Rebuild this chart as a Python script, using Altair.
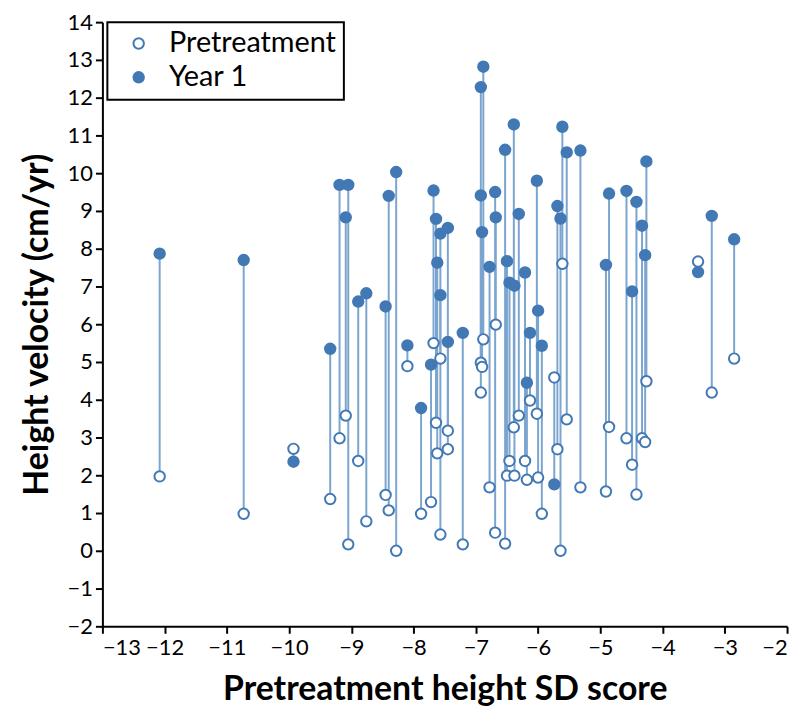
import altair as alt
import pandas as pd

# Pretreatment height SD score (x) for each child
sd_score = [-12.08, -10.73, -9.93, -9.34, -9.19, -9.09, -9.05, -8.89, -8.76, -8.45,
            -8.40, -8.28, -8.10, -7.88, -7.72, -7.68, -7.64, -7.62, -7.57, -7.57,
            -7.45, -7.45, -7.21, -6.92, -6.92, -6.90, -6.88, -6.78, -6.69, -6.68,
            -6.53, -6.50, -6.46, -6.39, -6.38, -6.31, -6.21, -6.18, -6.13, -6.02,
            -6.00, -5.94, -5.74, -5.69, -5.64, -5.61, -5.54, -5.32, -4.91, -4.86,
            -4.58, -4.49, -4.42, -4.33, -4.28, -4.26, -3.43, -3.21, -2.85]
# Height velocity before treatment (cm/yr)
pretreatment = [1.97, 0.98, 2.70, 1.37, 2.98, 3.58, 0.17, 2.38, 0.78, 1.48,
                1.07, 0.00, 4.89, 0.98, 1.29, 5.50, 3.39, 2.58, 5.09, 0.43,
                3.18, 2.69, 0.17, 4.19, 4.98, 4.87, 5.60, 1.68, 0.48, 5.99,
                0.19, 1.99, 2.38, 3.27, 1.99, 3.58, 2.38, 1.88, 3.98, 3.63,
                1.94, 0.98, 4.59, 2.69, 0.00, 7.60, 3.48, 1.68, 1.57, 3.28,
                2.98, 2.28, 1.49, 2.98, 2.88, 4.49, 7.66, 4.19, 5.09]
# Height velocity in year 1 of treatment (cm/yr)
year1 = [7.87, 7.70, 2.36, 5.35, 9.69, 8.83, 9.69, 6.60, 6.82, 6.47,
         9.40, 10.03, 5.44, 3.78, 4.93, 9.54, 8.79, 7.63, 8.40, 6.77,
         8.55, 5.53, 5.77, 12.28, 9.41, 8.44, 12.82, 7.52, 9.50, 8.83,
         10.62, 7.67, 7.10, 11.29, 7.02, 8.92, 7.37, 4.45, 5.77, 9.80,
         6.36, 5.43, 1.76, 9.13, 8.80, 11.23, 10.55, 10.60, 7.57, 9.46,
         9.53, 6.87, 9.24, 8.61, 7.83, 10.31, 7.38, 8.87, 8.25]

series_names = ["Pretreatment", "Year 1"]
x_ticks = list(range(-13, -1))
y_ticks = list(range(-2, 15))

n = len(sd_score)
wide = pd.DataFrame({"sd": sd_score, "pre": pretreatment, "y1": year1})
long = pd.DataFrame({
    "sd": sd_score + sd_score,
    "hv": pretreatment + year1,
    "series": [series_names[0]] * n + [series_names[1]] * n,
})

line_color = "#7ba5cf"
mark_color = "#4279b5"
FONT = "Lato"

x_enc = alt.X("sd:Q",
              scale=alt.Scale(domain=[-13, -2], nice=False, zero=False),
              axis=alt.Axis(values=x_ticks, title="Pretreatment height SD score",
                            titlePadding=15, labelPadding=4))
y_scale = alt.Scale(domain=[-2, 14], nice=False, zero=False)
y_axis = alt.Axis(values=y_ticks, title="Height velocity (cm/yr)", titlePadding=13,
                  labelPadding=3)

rules = alt.Chart(wide).mark_rule(color=line_color, strokeWidth=2).encode(
    x=x_enc,
    y=alt.Y("y1:Q", scale=y_scale, axis=y_axis),
    y2="pre:Q",
)

points = alt.Chart(long).mark_point(filled=True, shape="circle", size=110,
                                    strokeWidth=2, opacity=1).encode(
    x=x_enc,
    y=alt.Y("hv:Q", scale=y_scale, axis=y_axis),
    fill=alt.Fill("series:N",
                  scale=alt.Scale(domain=series_names, range=["white", mark_color]),
                  legend=alt.Legend(title=None, orient="none", legendX=5, legendY=0)),
    stroke=alt.Stroke("series:N",
                      scale=alt.Scale(domain=series_names, range=[mark_color, mark_color]),
                      legend=alt.Legend(title=None, orient="none", legendX=5, legendY=0)),
)

chart = alt.layer(rules, points).properties(
    width=689, height=608,
    autosize=alt.AutoSizeParams(type="none"),
    padding={"left": 95, "top": 12, "right": 10, "bottom": 85},
).configure_view(stroke=None).configure_axis(
    grid=False, domainColor="black", domainWidth=2, tickColor="black", tickWidth=2,
    tickSize=7, labelFont=FONT, labelFontSize=22, labelColor="black",
    titleFont=FONT, titleFontSize=34, titleFontWeight="bold", titleColor="black",
).configure_legend(
    labelFont=FONT, labelFontSize=29, labelColor="black", strokeColor="black",
    fillColor="white", padding=7, symbolSize=110, symbolStrokeWidth=2,
    rowPadding=4, labelOffset=16, symbolOffset=10, labelLimit=400, cornerRadius=0,
    strokeWidth=2,
)

chart.save("out.html", embed_options={"renderer": "svg", "actions": False})
